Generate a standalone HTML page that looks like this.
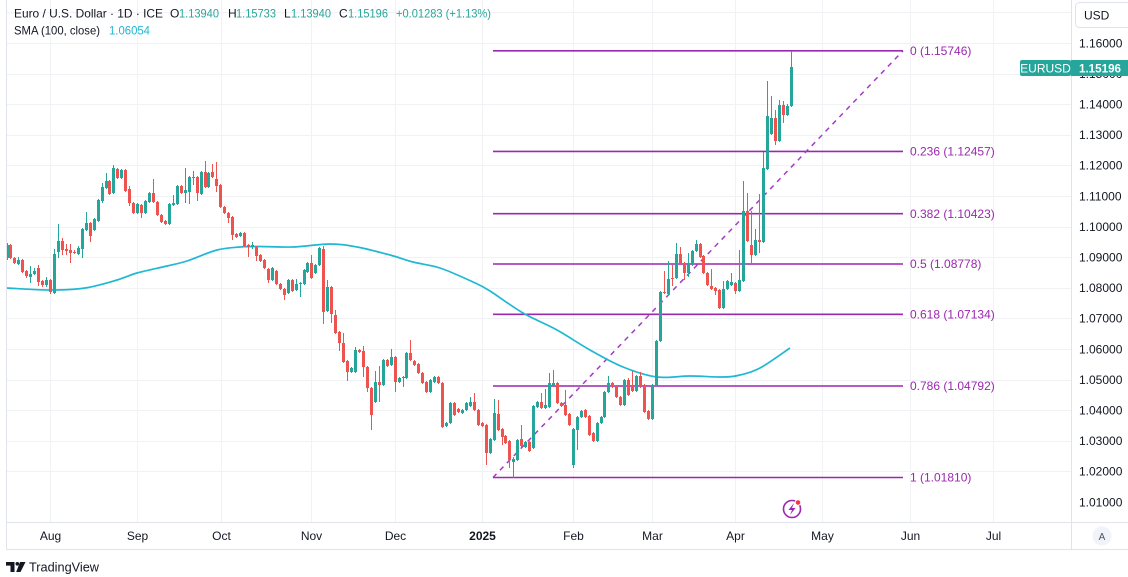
<!DOCTYPE html>
<html><head><meta charset="utf-8">
<style>
html,body{margin:0;padding:0;background:#fff;overflow:hidden;}
svg{display:block;font-family:"Liberation Sans",Arial,sans-serif;}
</style></head><body>
<svg id="c" width="1128" height="577" viewBox="0 0 1128 577" xmlns="http://www.w3.org/2000/svg">
<rect width="1128" height="577" fill="#fff"/>
<g id="grid" stroke="#f0f2f6" stroke-width="1" shape-rendering="crispEdges"></g>
<g id="fib">
  <g stroke="#9c27b0" stroke-width="1.6">
    <line x1="493" y1="50.8" x2="903" y2="50.8"/>
    <line x1="493" y1="151.4" x2="903" y2="151.4"/>
    <line x1="493" y1="213.7" x2="903" y2="213.7"/>
    <line x1="493" y1="264" x2="903" y2="264"/>
    <line x1="493" y1="314.3" x2="903" y2="314.3"/>
    <line x1="493" y1="386" x2="903" y2="386"/>
    <line x1="493" y1="477.5" x2="903" y2="477.5"/>
  </g>
  <line x1="493" y1="477.5" x2="903" y2="50.8" stroke="#a43cc4" stroke-width="1.5" stroke-dasharray="5 5"/>
  <g fill="#9c27b0" font-size="12">
    <text x="910" y="55">0 (1.15746)</text>
    <text x="910" y="155.5">0.236 (1.12457)</text>
    <text x="910" y="218">0.382 (1.10423)</text>
    <text x="910" y="268">0.5 (1.08778)</text>
    <text x="910" y="318.5">0.618 (1.07134)</text>
    <text x="910" y="390">0.786 (1.04792)</text>
    <text x="910" y="481.5">1 (1.01810)</text>
  </g>
</g>
<path id="sma" fill="none" stroke="#1fb8d2" stroke-width="1.7" stroke-linejoin="round"/>
<g id="candles"></g>

<!-- borders -->
<g stroke="#e0e3eb" stroke-width="1" shape-rendering="crispEdges">
  <line x1="6.5" y1="0" x2="6.5" y2="549"/>
  <line x1="6" y1="522.5" x2="1128" y2="522.5"/>
  <line x1="1071.5" y1="0" x2="1071.5" y2="549"/>
  <line x1="6" y1="549.5" x2="1128" y2="549.5"/>
</g>

<!-- price labels -->
<g id="plabels" fill="#131722" font-size="12"></g>

<!-- USD box -->
<rect x="1075.5" y="2.5" width="60" height="25" rx="4" fill="#fff" stroke="#e0e3eb"/>
<text x="1084" y="19.5" font-size="12" fill="#131722">USD</text>

<!-- last price badge -->
<rect x="1020" y="60" width="51" height="16" rx="2" fill="#26a69a"/>
<rect x="1071" y="60" width="57" height="16" fill="#26a69a"/>
<text x="1045.5" y="72.5" font-size="12" fill="#fff" text-anchor="middle">EURUSD</text>
<text x="1079" y="72.5" font-size="12" fill="#fff" font-weight="bold" textLength="42" lengthAdjust="spacingAndGlyphs">1.15196</text>

<!-- header -->
<g font-size="12" fill="#131722">
  <text x="14" y="17.5" textLength="149" lengthAdjust="spacingAndGlyphs">Euro / U.S. Dollar · 1D · ICE</text>
  <text x="170" y="17.5">O</text>
  <text x="179" y="17.5" fill="#26a69a" textLength="40" lengthAdjust="spacingAndGlyphs">1.13940</text>
  <text x="228" y="17.5">H</text>
  <text x="236" y="17.5" fill="#26a69a" textLength="40" lengthAdjust="spacingAndGlyphs">1.15733</text>
  <text x="284" y="17.5">L</text>
  <text x="291" y="17.5" fill="#26a69a" textLength="40" lengthAdjust="spacingAndGlyphs">1.13940</text>
  <text x="339" y="17.5">C</text>
  <text x="348" y="17.5" fill="#26a69a" textLength="40" lengthAdjust="spacingAndGlyphs">1.15196</text>
  <text x="396" y="17.5" fill="#26a69a" textLength="95" lengthAdjust="spacingAndGlyphs">+0.01283 (+1.13%)</text>
  <text x="14" y="34.5" textLength="86" lengthAdjust="spacingAndGlyphs">SMA (100, close)</text>
  <text x="109" y="34.5" fill="#1fb8d2" textLength="41" lengthAdjust="spacingAndGlyphs">1.06054</text>
</g>

<!-- time labels -->
<g font-size="12" fill="#131722" text-anchor="middle">
  <text x="50.5" y="540">Aug</text>
  <text x="137.5" y="540">Sep</text>
  <text x="221.5" y="540">Oct</text>
  <text x="311.5" y="540">Nov</text>
  <text x="395.5" y="540">Dec</text>
  <text x="482.5" y="540" font-weight="bold">2025</text>
  <text x="573.5" y="540">Feb</text>
  <text x="652.5" y="540">Mar</text>
  <text x="735.5" y="540">Apr</text>
  <text x="822.5" y="540">May</text>
  <text x="910.5" y="540">Jun</text>
  <text x="993.5" y="540">Jul</text>
</g>

<!-- A button -->
<circle cx="1102" cy="536" r="9.5" fill="#f0f3fa"/>
<text x="1102" y="540" font-size="10" fill="#50535e" text-anchor="middle">A</text>

<!-- lightning icon -->
<circle cx="792" cy="509" r="8.5" fill="#fff" stroke="#9c27b0" stroke-width="1.6"/>
<path d="M794,503 L788.5,510 L792,510 L790,515 L795.5,508 L792,508 Z" fill="#9c27b0"/>
<circle cx="798" cy="502.5" r="2.8" fill="#f23645" stroke="#fff" stroke-width="1"/>

<!-- TradingView logo -->
<g fill="#131722">
  <rect x="6" y="562" width="8.5" height="3.6"/>
  <rect x="10.5" y="562" width="4" height="10"/>
  <circle cx="17.3" cy="563.8" r="1.8"/>
  <polygon points="20,562 25.5,562 20.5,572 16.2,572"/>
</g>
<text x="29" y="571.5" font-size="12.5" fill="#131722" textLength="70" lengthAdjust="spacingAndGlyphs">TradingView</text>
</svg>
<script>
(function(){
var NS="http://www.w3.org/2000/svg";
function el(tag,attrs,parent){var e=document.createElementNS(NS,tag);for(var k in attrs)e.setAttribute(k,attrs[k]);parent.appendChild(e);return e;}
function Y(p){return 43+(1.16-p)*3060;}
// grid
var grid=document.getElementById('grid');
for(var k=0;k<=15;k++){var p=1.17-k*0.01;var y=Math.round(Y(p))+0.5;if(y<522)el('line',{x1:6,y1:y,x2:1071,y2:y},grid);}
[50.5,137.5,221.5,311.5,395.5,482.5,573.5,652.5,735.5,822.5,910.5,993.5].forEach(function(x){el('line',{x1:x,y1:0,x2:x,y2:522},grid);});
// price labels
var pl=document.getElementById('plabels');
for(var k=0;k<=15;k++){var p=1.16-k*0.01;var y=Y(p);if(y>515)continue;var t=el('text',{x:1079,y:(y+4.3).toFixed(1)},pl);t.textContent=p.toFixed(5);}
// candles
var D=[
[258,245,243,260],[245,258,244,259],[258,263,257,264],[264,260,257,265],[260,272,259,273],[271,276,270,278],[277,274,266,283],[274,271,268,275],[268,282,265,286],[281,285,280,287],
[285,280,277,287],[280,292,279,294],[293,254,249,294],[252,241,224,258],[241,250,238,255],[249,251,244,255],[250,253,244,263],[252,253,250,254],[254,248,246,255],[249,229,228,258],
[230,223,212,231],[223,236,222,242],[230,219,218,231],[221,200,199,222],[201,187,183,203],[188,181,173,189],[181,194,180,195],[193,168,165,194],[169,178,168,179],[178,170,169,179],
[170,191,169,192],[189,203,186,206],[203,213,202,214],[213,204,203,214],[205,213,204,218],[213,201,200,214],[202,193,192,203],[193,202,179,203],[202,215,201,216],[215,222,214,223],
[221,224,220,225],[224,204,203,225],[205,203,195,206],[204,186,185,205],[186,193,185,194],[193,190,168,203],[192,177,176,204],[178,177,171,185],[177,193,176,201],[194,172,171,195],
[172,187,161,188],[187,173,172,188],[172,177,164,178],[179,186,162,192],[185,207,184,208],[207,213,206,214],[213,218,212,223],[217,235,216,240],[234,237,233,238],[236,233,232,237],
[233,246,232,247],[245,247,244,257],[247,245,242,249],[247,256,246,261],[255,261,254,262],[260,268,259,269],[269,280,268,283],[280,268,267,281],[271,284,270,285],[284,289,283,290],
[289,295,288,300],[293,280,279,294],[280,291,279,292],[290,284,279,291],[284,283,282,297],[284,270,269,285],[272,263,262,273],[263,278,255,279],[273,265,264,274],[265,248,247,266],
[249,312,246,324],[311,287,280,312],[287,314,286,323],[315,333,310,334],[332,343,331,351],[343,362,333,363],[361,372,360,381],[372,368,367,373],[372,350,347,373],[350,352,349,353],
[351,367,346,377],[367,388,366,392],[388,415,387,430],[402,382,371,403],[382,385,366,402],[385,360,359,386],[360,366,359,367],[365,357,349,366],[357,382,356,392],[382,378,377,383],
[378,377,376,387],[378,353,352,379],[353,360,340,361],[361,365,360,366],[364,373,363,374],[373,383,372,384],[382,392,381,393],[392,380,379,393],[382,377,376,383],[377,383,376,384],
[383,427,382,428],[426,423,422,427],[423,403,402,424],[403,415,402,416],[409,412,408,413],[413,410,409,414],[410,403,402,411],[406,402,397,407],[402,410,393,411],[410,425,409,426],
[423,426,422,427],[425,453,424,465],[453,439,438,454],[440,413,399,441],[414,430,400,431],[429,437,428,445],[436,443,435,444],[441,460,440,468],[462,459,457,478],[460,440,439,461],
[439,446,425,447],[447,442,441,448],[442,451,441,452],[448,406,405,449],[407,402,401,408],[402,408,393,409],[408,405,389,409],[407,383,373,408],[386,383,370,387],[383,403,382,404],
[403,406,402,407],[405,415,390,416],[414,425,413,426],[465,429,428,468],[430,417,416,450],[417,411,410,418],[410,417,409,418],[416,435,415,436],[433,441,432,442],[441,423,422,442],
[423,417,416,424],[417,392,391,418],[392,383,376,393],[383,387,382,388],[387,397,386,398],[397,405,396,406],[405,380,379,406],[380,395,378,396],[385,391,371,392],[391,376,375,392],
[376,387,372,388],[385,412,384,413],[411,419,410,420],[419,385,384,420],[385,341,340,386],[341,292,291,342],[292,293,271,294],[294,279,261,295],[278,279,265,286],[278,254,243,279],
[254,263,247,264],[263,273,262,280],[273,264,253,277],[265,251,250,266],[251,244,240,252],[244,257,243,258],[256,273,255,274],[273,285,272,286],[286,289,269,290],[288,291,287,295],
[290,308,289,309],[308,289,281,309],[289,281,280,290],[285,282,273,286],[283,291,282,294],[291,280,250,292],[281,211,181,282],[211,241,193,242],[245,255,211,263],[255,240,229,256],
[240,242,194,253],[242,168,152,243],[169,116,81,170],[134,118,96,135],[118,141,110,145],[141,105,100,142],[105,115,101,123],[115,106,104,116],[106,67,51,107]
];
var g=document.getElementById('candles');
D.forEach(function(d,i){
  var xc=7+i*3.96, bx=Math.round(xc-1.5);
  var o=d[0],c=d[1],h=d[2],l=d[3];
  var col=(c<o)?'#26a69a':'#ef5350';
  var top=Math.min(o,c),bot=Math.max(o,c);
  h=Math.min(h,top);l=Math.max(l,bot);
  el('rect',{x:bx+1,y:h,width:1,height:Math.max(1,l-h),fill:col},g);
  el('rect',{x:bx,y:top,width:3,height:Math.max(1,bot-top),fill:col},g);
});
// SMA
var P=[[7,288],[50,290],[85,288],[117,280],[137,273],[167,266],[187,261],[217,250],[240,247],[260,246.5],[293,247],[330,244],[357,247],[390,255],[413,262],[440,268],[473,282],[490,291],[523,313],[557,330],[590,350],[623,367],[657,377],[690,376],[723,377],[740,375],[760,368],[790,348]];
var d='M'+P[0][0]+','+P[0][1];
for(var i=0;i<P.length-1;i++){
  var p0=P[i-1]||P[i],p1=P[i],p2=P[i+1],p3=P[i+2]||P[i+1];
  var c1x=p1[0]+(p2[0]-p0[0])/6,c1y=p1[1]+(p2[1]-p0[1])/6,c2x=p2[0]-(p3[0]-p1[0])/6,c2y=p2[1]-(p3[1]-p1[1])/6;
  d+=' C'+c1x.toFixed(1)+','+c1y.toFixed(1)+' '+c2x.toFixed(1)+','+c2y.toFixed(1)+' '+p2[0]+','+p2[1];
}
document.getElementById('sma').setAttribute('d',d);
})();
</script>
</body></html>
